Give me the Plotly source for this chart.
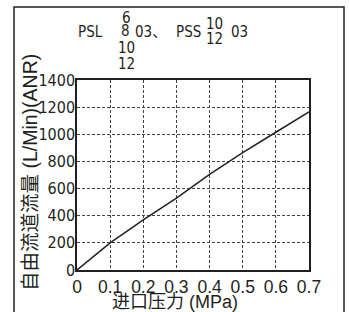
import plotly.graph_objects as go

pressure = [0, 0.1, 0.2, 0.3, 0.4, 0.5, 0.6, 0.7]
flow = [0, 200, 370, 530, 705, 865, 1015, 1165]
x_ticks = [0, 0.1, 0.2, 0.3, 0.4, 0.5, 0.6, 0.7]
x_tick_text = ["0", "0.1", "0.2", "0.3", "0.4", "0.5", "0.6", "0.7"]
y_ticks = [0, 200, 400, 600, 800, 1000, 1200, 1400]
x_title = "进口压力 (MPa)"
y_title = "自由流道流量 (L/Min)(ANR)"

INK = "#231f20"
NARROW = "Liberation Sans Narrow, Arial Narrow, DejaVu Sans Condensed, Liberation Sans, Arial, Noto Sans CJK SC"
REG = "Liberation Sans, Arial, Noto Sans CJK SC"

W, H = 349, 312
# plot area in pixels
X0, X1, Y0, Y1 = 77, 309, 80, 270
# outer frame in pixels (left, top, right)
FL, FT, FR = 14, 7, 344


def px(x):
    return x / W


def py(y):
    return (H - y) / H


fig = go.Figure()
fig.add_trace(go.Scatter(x=pressure, y=flow, mode="lines",
                         line=dict(color=INK, width=1.5), showlegend=False,
                         hoverinfo="skip"))
# outer decorative frame, drawn in a full-page pixel subplot
fig.add_trace(go.Scatter(x=[FL, FL, FR, FR], y=[H + 5, FT, FT, H + 5],
                         xaxis="x2", yaxis="y2", mode="lines",
                         line=dict(color=INK, width=1.5),
                         showlegend=False, hoverinfo="skip"))

annots = []


def txt(t, x, y, size=15, angle=0, family=NARROW):
    annots.append(dict(text=t, x=px(x), y=py(y), xref="paper", yref="paper",
                       showarrow=False, xanchor="center", yanchor="middle",
                       textangle=angle,
                       font=dict(family=family, size=size, color=INK)))


# header
txt("PSL", 90, 32)
txt("6", 126, 17.5)
txt("8", 125, 31.5)
txt("10", 126, 48)
txt("12", 126, 64)
txt("03、", 151, 32)
txt("PSS", 188, 32)
txt("10", 214, 24)
txt("12", 214, 39)
txt("03", 239, 32)

# axis titles
txt(x_title, 175, 302, size=18, family=REG)
txt(y_title, 30, 173, size=19.5, angle=-90, family=REG)

hidden_axis = dict(showgrid=False, zeroline=False, ticks="", showticklabels=False,
                   showline=False, automargin=False, fixedrange=True)

fig.update_layout(
    width=W, height=H, autosize=False,
    margin=dict(l=0, r=0, t=0, b=0, pad=0),
    paper_bgcolor="white", plot_bgcolor="rgba(0,0,0,0)",
    annotations=annots,
    xaxis=dict(domain=[px(X0), px(X1)], range=[0, 0.7], automargin=False,
               tickvals=x_ticks, ticktext=x_tick_text,
               showgrid=True, gridcolor="#444444", gridwidth=1, griddash="3px,2px",
               showline=True, linecolor=INK, linewidth=1.5, mirror=True,
               ticks="", zeroline=False,
               tickfont=dict(family=REG, size=17.5, color=INK)),
    yaxis=dict(domain=[py(Y1), py(Y0)], range=[0, 1400], tickvals=y_ticks,
               automargin=False,
               showgrid=True, gridcolor="#444444", gridwidth=1, griddash="3px,2px",
               showline=True, linecolor=INK, linewidth=1.5, mirror=True,
               ticks="", zeroline=False, ticklabelstandoff=-3,
               tickfont=dict(family=NARROW, size=16, color=INK)),
    xaxis2=dict(domain=[0, 1], anchor="y2", range=[0, W], **hidden_axis),
    yaxis2=dict(domain=[0, 1], anchor="x2", range=[H, 0], **hidden_axis),
)

fig.write_html("out.html", config={"displayModeBar": False},
               post_script="document.body.style.margin='0';document.body.style.padding='0';")
